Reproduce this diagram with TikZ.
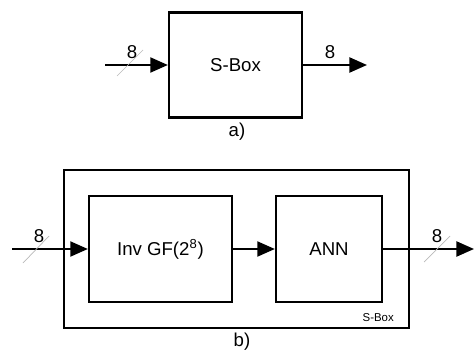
\documentclass[tikz,border=0pt]{standalone}
\usepackage{fontspec}
\setmainfont{Liberation Sans}
\usetikzlibrary{arrows.meta}
\begin{document}
\begin{tikzpicture}[x=0.02cm,y=-0.02cm,
    blocco/.style={draw,line width=1.3pt,inner sep=0pt},
    freccia/.style={line width=1.3pt,-{Triangle[length=10pt,width=8.5pt]}},
    barra/.style={gray!55,line width=0.4pt},
    testo/.style={font=\fontsize{10.6}{12}\selectfont}]
    \useasboundingbox (0,0) rectangle (475,354);

    % a) s-box singola
    \node[blocco,testo,minimum width=2.66cm,minimum height=2.1cm] (sboxA) at (235.5,65) {S-Box};
    \coordinate (inA) at (105,65);
    \coordinate (outA) at (367,65);
    \draw[freccia] (inA) -- (sboxA);
    \draw[freccia] (sboxA) -- (outA);
    \draw[barra] (117,76) -- (143,50);
    \node[testo] (bitInA) at (132,52) {8};
    \node[testo] (bitOutA) at (330,52) {8};
    \node[testo] (capA) at (237,132) {a)};

    % b) s-box composta
    \node[blocco,minimum width=6.9cm,minimum height=3.16cm] (sboxB) at (236.5,249) {};
    \node[blocco,testo,minimum width=2.86cm,minimum height=2.12cm] (inv) at (160.5,249) {Inv GF(2\textsuperscript{8})};
    \node[blocco,testo,minimum width=2.12cm,minimum height=2.12cm] (ann) at (329,249) {ANN};
    \node[font=\fontsize{6.5}{8}\selectfont,anchor=east] (etichetta) at (400,318) {S-Box};

    % frecce
    \coordinate (inB) at (12,249);
    \coordinate (outB) at (474,249);
    \draw[freccia] (inB) -- (inv);
    \draw[freccia] (inv) -- (ann);
    \draw[freccia] (ann) -- (outB);
    \draw[barra] (23,263) -- (49,236);
    \draw[barra] (424,262) -- (450,236);
    \node[testo] (bitInB) at (39,236) {8};
    \node[testo] (bitOutB) at (437,236) {8};
    \node[testo] (capB) at (242,342) {b)};
\end{tikzpicture}
\end{document}
